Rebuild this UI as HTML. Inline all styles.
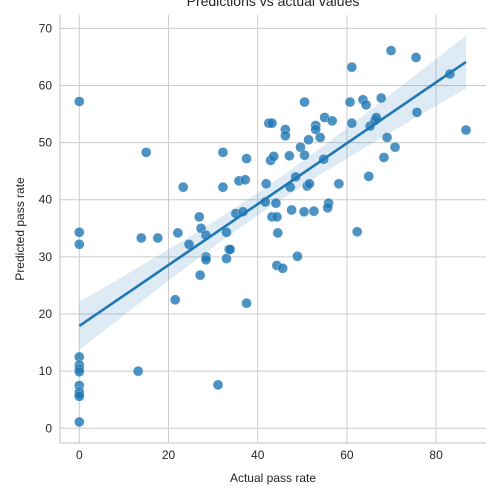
<!DOCTYPE html>
<html><head><meta charset="utf-8"><style>
body{margin:0;background:#fff;}
svg{display:block;font-family:"Liberation Sans",Arial,sans-serif;}
</style></head><body>
<svg id="chart" width="500" height="500" viewBox="0 0 500 500">
<g id="grid"></g>
<g id="band"></g>
<g id="pts"></g>
<g id="fit"></g>
<g id="axes"></g>
<text x="273" y="6" text-anchor="middle" font-size="14" fill="#262626">Predictions vs actual values</text>
<text x="273" y="482" text-anchor="middle" font-size="12" fill="#262626">Actual pass rate</text>
<text x="24" y="229" text-anchor="middle" font-size="12" fill="#262626" transform="rotate(-90 24 229)">Predicted pass rate</text>
</svg>
<script>
const actual=[0,0,0,0,0,0,0,0,0,0,0,0,13.2,15,13.9,17.6,22.1,21.5,23.3,24.6,26.9,27.3,27.1,28.4,28.4,28.4,32.2,32.2,33,33,33.6,33.8,31.1,35.1,35.8,37.2,37.5,36.7,37.5,41.7,41.9,42.5,43.2,42.9,43.6,43.2,44.1,44.3,44.5,44.3,45.6,46.2,46.2,47.1,47.3,47.6,48.5,48.9,49.6,50.5,50.5,51.1,51.6,50.4,51.4,53,53,52.6,54.8,54,55,55.9,55.7,56.7,58.2,60.7,61.1,61.1,62.3,63.6,64.3,65.2,66.3,66.6,64.9,67.7,68.3,69,70.8,69.9,75.5,75.7,83.1,86.7];
const predicted=[57.2,34.3,32.2,12.5,11.1,10.4,9.9,7.5,6.4,6,5.6,1.1,10,48.3,33.3,33.3,34.2,22.5,42.2,32.2,37,35,26.8,33.8,30,29.5,48.3,42.2,34.3,29.7,31.3,31.3,7.6,37.6,43.3,43.5,47.2,37.9,21.9,39.6,42.8,53.4,53.4,46.9,47.6,37,39.4,37,34.2,28.5,28,52.3,51.2,47.7,42.2,38.2,44,30.1,49.2,47.8,57.1,42.4,42.8,37.9,50.5,53,52.3,38,47.1,50.9,54.4,39.4,38.6,53.8,42.8,57.1,53.4,63.2,34.4,57.5,56.6,52.9,53.9,54.4,44.1,57.8,47.4,50.9,49.2,66.1,64.9,55.3,62,52.2];
const xTicks=[0,20,40,60,80];
const yTicks=[0,10,20,30,40,50,60,70];
const NS="http://www.w3.org/2000/svg";
const L=60,R=486,T=15,B=443;
const sx=v=>79.3+v*4.46;
const sy=v=>428.3-v*5.714;
function mk(tag,attrs,parent){const e=document.createElementNS(NS,tag);for(const k in attrs)e.setAttribute(k,attrs[k]);parent.appendChild(e);return e;}
const grid=document.getElementById('grid'),axes=document.getElementById('axes');
xTicks.forEach(t=>{
 const l=mk('line',{x1:sx(t),x2:sx(t),y1:T,y2:B,stroke:'#cccccc','stroke-width':1},grid);
 
 
 const tx=mk('text',{x:sx(t),y:B+16,'text-anchor':'middle','font-size':12,fill:'#262626'},axes);
 tx.textContent=t;
 
 
});
yTicks.forEach(t=>{
 const l=mk('line',{x1:L,x2:R,y1:sy(t),y2:sy(t),stroke:'#cccccc','stroke-width':1},grid);
 
 
 const tx=mk('text',{x:L-8,y:sy(t)+4,'text-anchor':'end','font-size':12,fill:'#262626'},axes);
 tx.textContent=t;
 
 
});
const sl=mk('line',{x1:L,x2:L,y1:T,y2:B,stroke:'#cccccc','stroke-width':1.2},axes);


const sb=mk('line',{x1:L,x2:R,y1:B,y2:B,stroke:'#cccccc','stroke-width':1.2},axes);


// regression
const n=actual.length;
const mx=actual.reduce((a,b)=>a+b,0)/n,my=predicted.reduce((a,b)=>a+b,0)/n;
let sxx=0,sxy=0;for(let i=0;i<n;i++){sxx+=(actual[i]-mx)**2;sxy+=(actual[i]-mx)*(predicted[i]-my);}
const slope=sxy/sxx,icpt=my-slope*mx;
let sse=0;for(let i=0;i<n;i++){sse+=(predicted[i]-icpt-slope*actual[i])**2;}
const se=Math.sqrt(sse/(n-2)),tq=1.99;
const xmin=Math.min(...actual),xmax=Math.max(...actual);
const up=[],lo=[];
for(let k=0;k<=60;k++){const x=xmin+(xmax-xmin)*k/60;const y=icpt+slope*x;const h=tq*se*Math.sqrt(1/n+(x-mx)**2/sxx);up.push(sx(x)+','+sy(y+h));lo.unshift(sx(x)+','+sy(y-h));}
const band=mk('polygon',{points:up.concat(lo).join(' '),fill:'#1f77b4','fill-opacity':0.15},document.getElementById('band'));


const fl=mk('line',{x1:sx(xmin),y1:sy(icpt+slope*xmin),x2:sx(xmax),y2:sy(icpt+slope*xmax),stroke:'#1f77b4','stroke-width':2.6},document.getElementById('fit'));


const pts=document.getElementById('pts');
for(let i=0;i<n;i++){
 const c=mk('circle',{cx:sx(actual[i]),cy:sy(predicted[i]),r:5,fill:'#1f77b4','fill-opacity':0.8,stroke:'#ffffff','stroke-opacity':0.6,'stroke-width':0.5},pts);
 
 
}
</script>
</body></html>
